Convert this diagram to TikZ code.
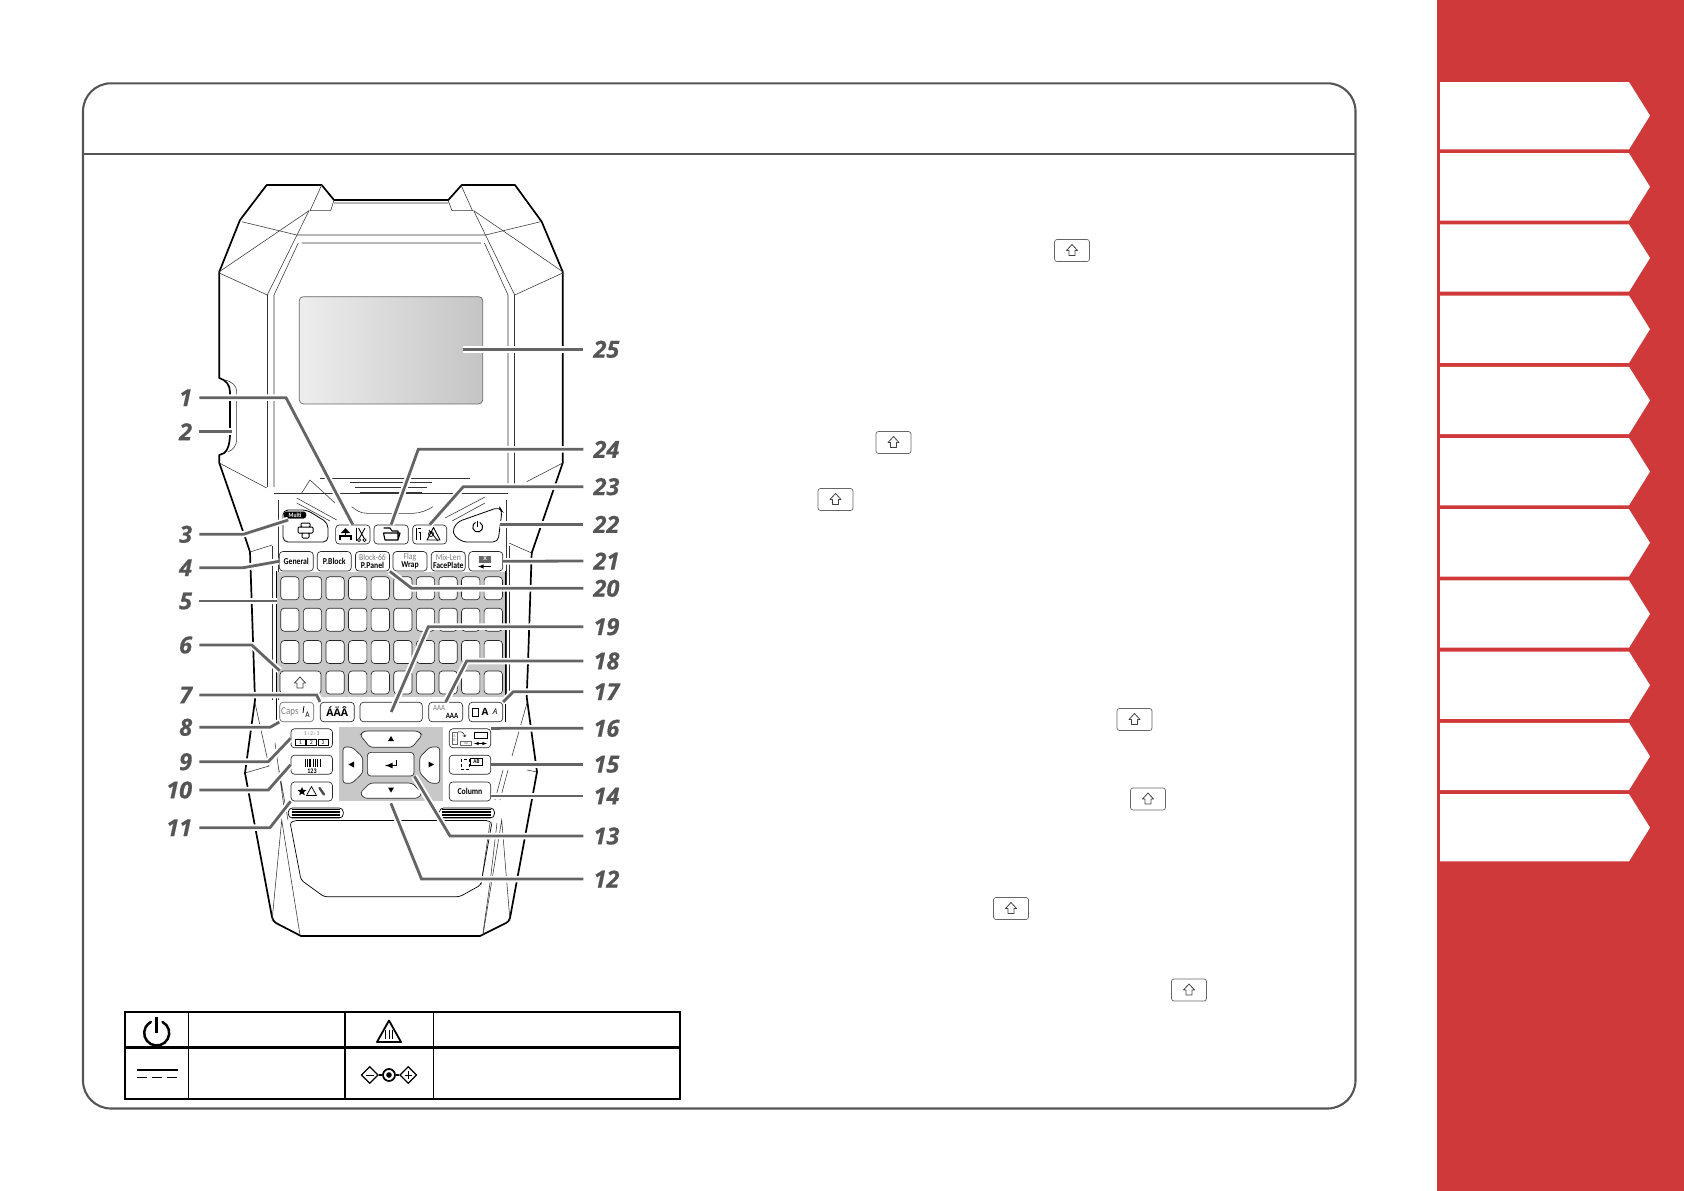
\documentclass[tikz,border=0pt]{standalone}
\usepackage{fontspec}
\usepackage{tikz}
\usetikzlibrary{shapes.geometric}
\newfontfamily\labelfont[BoldItalicFeatures={FakeBold=0.5}]{Open Sans}
\newfontfamily\keyfont[FakeStretch=0.86]{Carlito}
\definecolor{sidered}{RGB}{208,57,57}
\definecolor{framegrey}{RGB}{85,85,85}
\definecolor{leadgrey}{RGB}{100,100,100}
\definecolor{padgrey}{RGB}{200,200,200}
\definecolor{fadetext}{RGB}{125,125,125}
\tikzset{
  key/.style={draw=black!85, fill=white, rounded corners=3.5, line width=0.65, inner sep=0, font=\keyfont\bfseries\fontsize{9}{8.5}\selectfont, align=center},
  widekey/.style={key, minimum width=34, minimum height=19.5},
  sidekey/.style={key, minimum width=41.5, minimum height=19},
  gridkey/.style={key, minimum width=18.3, minimum height=23},
  glyph/.style={inner sep=0, font=\keyfont\bfseries\fontsize{8}{8}\selectfont},
  leader/.style={draw=leadgrey, line width=2.8, preaction={draw=white, line width=6.5}},
  leftnum/.style={anchor=east, inner sep=0, inner xsep=7, text=framegrey, font=\labelfont\bfseries\itshape\fontsize{23.5}{23.5}\selectfont},
  rightnum/.style={anchor=west, inner sep=0, inner xsep=10, text=framegrey, font=\labelfont\bfseries\itshape\fontsize{23.5}{23.5}\selectfont},
  outline/.style={line width=1.7, line join=round},
  fine/.style={line width=0.55, black!80},
  tab/.style={fill=white, draw=none},
}
% hollow arrow of the shift key, x y
\newcommand{\shiftmark}[2]{\draw[line width=0.8, line join=round, black!75] (#1,#2) ++(0,-6) -- ++(5.5,6) -- ++(-2.5,0) -- ++(0,5) -- ++(-6,0) -- ++(0,-5) -- ++(-2.5,0) -- cycle;}
% power sign, x y radius
\newcommand{\powermark}[3]{\draw[line width=#3*0.2, line cap=round] (#1,#2) ++(62:#3pt) arc (62:-242:#3pt); \draw[line width=#3*0.2] (#1,#2) -- ++(0,-#3*1.3);}
% red tab, y
\newcommand{\sidetab}[1]{\draw[tab] (1440,#1) -- (1629,#1) -- (1650,#1+33.6) -- (1629,#1+67.3) -- (1440,#1+67.3) -- cycle;}
\begin{document}
\begin{tikzpicture}[x=1pt,y=-1pt]
  \useasboundingbox (0,0) rectangle (1684,1191);

  % Side bar and its tabs
  \fill[sidered] (1436.5,0) rectangle (1684,1191);
  \foreach \t in {0,...,10} {\sidetab{82+71.2*\t}}

  % Panel frame
  \draw[framegrey, line width=2.1, rounded corners=28] (83,83.3) rectangle (1355.5,1108.5);
  \draw[framegrey, line width=2.1] (83,153.8) -- (1355.5,153.8);

  % Shift keys in the text column
  \foreach \sx/\sy [count=\i] in {1072/250.5,893.5/442.5,835.5/499.5,1134.5/719.5,1148/799,1011/908.5,1189/990} {
    \node[draw=black!60, rounded corners=2.5, line width=0.7, minimum width=35, minimum height=22, inner sep=0] (shift\i) at (\sx,\sy) {};
    \shiftmark{\sx}{\sy}
  }

  % Body of the printer
  \draw[outline] (250,552) -- (246,540) -- (219.3,463) -- (219.3,455) .. controls (226,454) and (230,448) .. (230,433) -- (230,392) .. controls (230,385) and (226,380) .. (219.3,378) -- (219.3,271.7) -- (240,220) -- (266.7,185) -- (321.7,185) -- (334,200) -- (448.3,200) -- (461.7,185) -- (515,185) -- (541.7,221.7) -- (562.7,271.7) -- (562.7,463) -- (531.7,553) -- (528,663) -- (526.7,697) -- (537,772) -- (510,918) .. controls (509,921) and (508,922) .. (506,923) -- (480,936) -- (301,936) -- (276,923) .. controls (274,922) and (273,920) .. (272,917) -- (245,773) -- (255,700) -- cycle;
  \draw[fine] (225,380) .. controls (233,382) and (236.7,386) .. (236.7,392) -- (236.7,438) .. controls (236.7,446) and (233,450) .. (228,452);
  \draw[fine] (334,203) -- (448,203) (321.7,185) -- (310,210.7) -- (330.7,210.7) -- (334,200) (461,185) -- (472.5,210.7) -- (452,210.7) -- (448,200);
  \draw[fine] (241.7,221.7) -- (296.7,235) -- (485.5,235) -- (540.7,221.7) (301.7,243) -- (481,243);
  \draw[fine] (219.3,271.7) -- (309,210.7) (562.7,271.7) -- (473.7,210.7);
  \draw[fine] (219.3,273) -- (267.3,295) -- (309,210.7) (562.7,273) -- (514.7,295) -- (473.7,210.7);
  \draw[fine] (274,487) -- (274,295) -- (298.3,243) (508,487) -- (508,295) -- (484.4,243);
  \draw[fine] (267.3,295) -- (267.3,487) (514.7,295) -- (514.7,487);
  \draw[fine] (219.3,463) -- (266.7,488) (562.7,463) -- (526.7,481.7);
  \draw[fine] (274,493) -- (508,493) (320,478) -- (470,478);
  \draw[fine] (301.7,493) -- (310,480) -- (335,503);
  \draw[fine] (350,482.3) -- (431.7,482.3) (355,487) -- (426.7,487) (360,492) -- (421.7,492);
  \draw[fine] (351.7,506.7) .. controls (356,510) and (360,513.3) .. (367,513.3) -- (413,513.3) .. controls (420,513.3) and (428,510) .. (433,506.7);
  \draw[fine] (296.7,498) -- (336.7,520) (296.7,503) -- (330,521) (485,497) -- (445,518) (485,503) -- (452,521);
  \draw[fine] (272.3,546) -- (272.3,700) (278,500) -- (278,700) (506,500) -- (506,700) (509.3,546) -- (509.3,700);
  \draw[fine] (272,545) -- (250,552) (509,543) -- (531.7,553);
  \draw[fine] (255,703) -- (269,766) -- (245,773) (527,703) -- (512,756) (527,770) -- (537,772);
  \draw[fine] (275,743) -- (284,807) (279,770) -- (288,820) (508,770) -- (500,800) (503,770) -- (495,800);
  \draw[fine] (272,921) -- (281.7,820) -- (300,935) (510,921) -- (501.7,820) -- (483,935);
  \draw[fine] (490,823) -- (481,885) (497,823) -- (490,883) -- (483,933);

  % Screen
  \node[draw=black!60, line width=0.7, rounded corners=4, minimum width=183.4, minimum height=107.3, left color=black!7, right color=black!23, inner sep=0] (screen) at (391,350.3) {};

  % Panel under the screen
  \draw[line width=0.8, rounded corners=5] (283,542) -- (283,510) -- (307,510) -- (328,523) -- (328,542) -- cycle;
  \draw[line width=0.8, rounded corners=5] (457,522) -- (499.5,507) -- (502,511) -- (498,542) -- (462,542) -- (451.7,533) -- cycle;

  % Grey behind the keys
  \fill[padgrey] (276.7,571.7) rectangle (505,696.7);
  \fill[padgrey] (339,727.3) rectangle (442.7,800.7);
  \draw[line width=0.55] (276.7,571) -- (276.7,722) (505,571) -- (505,722);

  % Function keys
  \node[draw, fill=black, rounded corners=2.5, minimum width=22, minimum height=6.5, inner sep=0, text=white, font=\keyfont\bfseries\fontsize{6.5}{6.5}\selectfont] (multi) at (295,515) {Multi};
  \draw[line width=1, fill=white, rounded corners=1] (301,523) rectangle (310,527) (298,527) rectangle (313,533) (302,533) rectangle (309,538);
  \node[key, minimum width=34.3, minimum height=19] (feed) at (352.8,534.5) {};
  \node[key, minimum width=34.3, minimum height=19] (folder) at (391.1,534.5) {};
  \node[key, minimum width=34, minimum height=19] (setup) at (429.7,534.5) {};
  \draw[line width=1.2] (339,536) -- (352,536) (340,540) -- (340,536) (351,540) -- (351,536);
  \fill (345.5,528) -- (350,533) -- (341,533) -- cycle;
  \draw[line width=0.9] (345.5,532) -- (345.5,536);
  \draw[line width=0.8] (356.5,528) -- (356.5,541);
  \draw[line width=0.9] (358.5,528) -- (364,538) (365,528) -- (359.5,538);
  \draw[line width=0.8] (359,540) circle (1.6pt) (364.5,540) circle (1.6pt);
  \draw[line width=1.1, line join=round] (383.5,528) -- (390,528) -- (392,531) -- (398,531) -- (398,540) -- (385,540) -- (383.5,533) -- (400,533) -- (398,540);
  \draw[line width=1] (416,528) -- (416,540) (418.5,532) -- (420.5,532) -- (420.5,540) (418,528) -- (421,528);
  \draw[line width=0.9, line join=round] (433.5,527.5) -- (440,540) -- (427,540) -- cycle;
  \draw[line width=0.8] (431,534) circle (2.5pt) (429,530) -- (438,541);
  \powermark{477.7}{527}{5}

  % Second row of keys
  \node[widekey] (general) at (296.3,561.3) {General};
  \node[widekey] (pblock) at (334.2,561.3) {P.Block};
  \node[widekey] (ppanel) at (372.5,561.3) {{\color{fadetext}\mdseries Block-66}\\P.Panel};
  \node[widekey] (wrap) at (410,561.3) {{\color{fadetext}\mdseries Flag}\\Wrap};
  \node[widekey] (faceplate) at (448.3,561.3) {{\color{fadetext}\mdseries Mix-Len}\\FacePlate};
  \node[widekey] (backspace) at (485.8,561.3) {};
  \node[fill=black!60, text=white, minimum width=12, minimum height=7, inner sep=0, font=\sffamily\bfseries\fontsize{8}{8}\selectfont] (clear) at (485,559) {x};
  \draw[line width=0.9, -latex] (491,566.5) -- (478,566.5);

  % Letter keys
  \foreach \row/\y in {1/588.3,2/619.7,3/652} {
    \foreach \col in {0,...,9} {
      \node[gridkey] (letter\row\col) at (289.9+22.6*\col,\y) {};
    }
  }
  \foreach \col in {2,...,9} {
    \node[gridkey] (letter4\col) at (289.9+22.6*\col,682.5) {};
  }
  \node[key, minimum width=41, minimum height=23] (shift) at (300.5,682.5) {};
  \shiftmark{300}{683}

  % Row above the pad
  \node[widekey, draw=black!60, text=fadetext, text width=31, align=left, font=\keyfont\fontsize{10.5}{10.5}\selectfont] (caps) at (296.7,712) {Caps};
  \node[glyph, font=\keyfont\fontsize{8.5}{8.5}\selectfont] (capsA) at (307.5,715) {A};
  \draw[line width=0.8] (304,706) .. controls (302,708) and (305,710) .. (303,713);
  \node[widekey, font=\labelfont\bfseries\fontsize{10.5}{10.5}\selectfont] (accent) at (337.3,712) {ÁÄÂ};
  \node[key, minimum width=62.3, minimum height=19.5] (space) at (391.2,712) {};
  \node[widekey] (width) at (445.7,712) {};
  \node[glyph, text=fadetext, font=\keyfont\fontsize{8}{8}\selectfont] (widthA) at (439,708) {AAA};
  \node[glyph, font=\keyfont\bfseries\fontsize{8}{8}\selectfont] (widthB) at (452,716) {AAA};
  \node[widekey] (style) at (485.8,712) {};
  \node[glyph, font=\labelfont\bfseries\fontsize{10}{10}\selectfont] (styleA) at (485,712) {A};
  \node[glyph, font=\labelfont\itshape\fontsize{8}{8}\selectfont] (styleB) at (495,712) {A};
  \draw[line width=0.8] (472,708) rectangle (478,716);

  % Left column of keys
  \node[sidekey] (number) at (311.7,738.3) {};
  \node[sidekey] (barcode) at (311.7,764.7) {};
  \node[sidekey] (symbol) at (311.7,791.5) {};
  \node[glyph, text=fadetext, font=\keyfont\fontsize{6}{6}\selectfont] (numbertop) at (311.7,733.5) {1\,›\,2\,›\,3};
  \foreach \bx/\bn in {300.5/1,311.5/2,323/3} {
    \node[draw, line width=0.7, minimum width=10, minimum height=6, inner sep=0, font=\keyfont\fontsize{6}{6}\selectfont] (number\bn) at (\bx,742.5) {\bn};
  }
  \foreach \bx/\bw in {305.5/0.6,307/1,309/0.5,310.5/1.4,313/0.6,315/0.8,317.5/0.6,320/1} {
    \draw[line width=\bw] (\bx,759) -- (\bx,767);
  }
  \node[glyph, font=\keyfont\bfseries\fontsize{7}{7}\selectfont] (barcodenum) at (312,771) {123};
  \node[star, star points=5, star point ratio=2.4, fill=black, inner sep=0, minimum size=9.5] (star) at (302,791.5) {};
  \draw[line width=0.7, line join=round] (311.5,786.5) -- (316.5,795.5) -- (306.5,795.5) -- cycle;
  \draw[line width=2.4, line cap=round, black!70] (319.5,788) -- (324,794.5);

  % Right column of keys
  \node[sidekey] (layout) at (470,738.3) {};
  \node[sidekey] (length) at (470,764.7) {};
  \node[sidekey] (column) at (470,791.5) {Column};
  \node[draw=black!60, line width=0.6, minimum width=5, minimum height=12, inner sep=0, align=center, text=fadetext, font=\keyfont\fontsize{4.5}{4.5}\selectfont] (layoutA) at (454.5,738) {A\\B};
  \node[draw=black!60, line width=0.6, minimum width=11, minimum height=4.5, inner sep=0, text=fadetext, font=\keyfont\fontsize{4}{4}\selectfont] (layoutB) at (466,743.5) {AB};
  \draw[line width=0.8] (474,732) rectangle (487,738.5);
  \draw[line width=0.6, latex-latex] (474,743.5) -- (487,743.5);
  \draw[line width=0.5, ->] (458,732) .. controls (462,731) and (464,733) .. (465,737);
  \draw[line width=0.7, densely dashed] (461,759) rectangle (469,769);
  \node[draw, line width=0.7, minimum width=12, minimum height=7, inner sep=0, font=\keyfont\bfseries\fontsize{6}{6}\selectfont] (lengthAB) at (476.5,762) {AB};

  % Pad keys
  \node[key, minimum width=46.7, minimum height=23.7] (enter) at (390.7,764.2) {};
  \draw[key, rounded corners=3] (364,731) -- (418,731) -- (422.3,735) -- (412,747.3) -- (370,747.3) -- (360,735) -- cycle;
  \draw[key, rounded corners=3] (370,783) -- (412,783) -- (422.3,793) -- (418,798.3) -- (364,798.3) -- (360,793) -- cycle;
  \draw[key, rounded corners=3] (343,747) -- (352,747) -- (362.7,757) -- (362.7,773) -- (352,783.3) -- (343,783.3) -- cycle;
  \draw[key, rounded corners=3] (439.7,747) -- (430,747) -- (419.7,757) -- (419.7,773) -- (430,783.3) -- (439.7,783.3) -- cycle;
  \coordinate (downkey) at (390.9,803.3);
  \fill (391,736) -- (394,741) -- (388,741) -- cycle;
  \fill (391,792.5) -- (394,787.5) -- (388,787.5) -- cycle;
  \fill (348.5,764.5) -- (354,761.5) -- (354,767.5) -- cycle;
  \fill (434,764.5) -- (428.5,761.5) -- (428.5,767.5) -- cycle;
  \draw[line width=1.6, -latex] (396.5,759.5) -- (396.5,765.5) -- (385,765.5);

  % Vents and lower tray
  \draw[line width=0.7, rounded corners=4] (288.3,808) rectangle (343.3,818) (439.4,808) rectangle (494.4,818);
  \foreach \v in {809.5,811,812.5,814,815.5,817} {
    \draw[line width=0.6] (292,\v) -- (340,\v) (442,\v) -- (490.5,\v);
  }
  \draw[line width=0.7] (296,820.7) -- (486.5,820.7);
  \draw[line width=0.7, rounded corners=3] (296,820.7) -- (290,822) -- (301,880) -- (324,896.7) -- (459.7,896.7) -- (480.8,885) -- (492,822) -- (486.5,820.7);

  % Set up number labels
  \node[leftnum] (n1) at (199.3,397.7) {1};
  \node[leftnum] (n2) at (199.3,431.7) {2};
  \node[leftnum] (n3) at (199.3,534.3) {3};
  \node[leftnum] (n4) at (199.3,567.7) {4};
  \node[leftnum] (n5) at (199.3,601) {5};
  \node[leftnum] (n6) at (199.3,645) {6};
  \node[leftnum] (n7) at (199.3,695) {7};
  \node[leftnum] (n8) at (199.3,727.3) {8};
  \node[leftnum] (n9) at (199.3,761.7) {9};
  \node[leftnum] (n10) at (199.3,790) {10};
  \node[leftnum] (n11) at (199.3,827.7) {11};
  \node[rightnum] (n12) at (583.3,879) {12};
  \node[rightnum] (n13) at (583.3,836) {13};
  \node[rightnum] (n14) at (583.3,796) {14};
  \node[rightnum] (n15) at (583.3,764.3) {15};
  \node[rightnum] (n16) at (583.3,728.3) {16};
  \node[rightnum] (n17) at (583.3,691.7) {17};
  \node[rightnum] (n18) at (583.3,661) {18};
  \node[rightnum] (n19) at (583.3,626.7) {19};
  \node[rightnum] (n20) at (583.3,588.3) {20};
  \node[rightnum] (n21) at (583.3,561) {21};
  \node[rightnum] (n22) at (583.3,524.3) {22};
  \node[rightnum] (n23) at (583.3,486.7) {23};
  \node[rightnum] (n24) at (583.3,449.3) {24};
  \node[rightnum] (n25) at (583.3,349.3) {25};

  % Draw leaders
  \draw[leader] (n1.east) -- (286,397.7) -- (feed.north);
  \draw[leader] (n2.east) -- (231.7,431.7);
  \draw[leader] (n3.east) -- (243.3,534.3) -- (288.3,520);
  \draw[leader] (n4.east) -- (243.3,567.7) -- (general.west);
  \draw[leader] (n5.east) -- (276.7,601);
  \draw[leader] (n6.east) -- (251.7,645) -- (shift.north west);
  \draw[leader] (n7.east) -- (316.7,695) -- (accent.north west);
  \draw[leader] (n8.east) -- (270,727.3) -- (caps.south west);
  \draw[leader] (n9.east) -- (268.3,761.7) -- (number.west);
  \draw[leader] (n10.east) -- (268.3,790) -- (barcode.west);
  \draw[leader] (n11.east) -- (270,827.7) -- (symbol.south west);
  \draw[leader] (n12.west) -- (421.5,879) -- (downkey);
  \draw[leader] (n13.west) -- (450,836) -- (enter.south east);
  \draw[leader] (n14.west) -- (column.east |- n14.west);
  \draw[leader] (n15.west) -- (length.east |- n15.west);
  \draw[leader] (n16.west) -- (503,728.3) -- (layout.north east);
  \draw[leader] (n17.west) -- (513.3,691.7) -- (style.north east);
  \draw[leader] (n18.west) -- (466.7,661) -- (width.north);
  \draw[leader] (n19.west) -- (428.3,626.7) -- (space.center);
  \draw[leader] (n20.west) -- (411.7,588.3) -- (ppanel.south east);
  \draw[leader] (n21.west) -- (backspace.east);
  \draw[leader] (n22.west) -- (500,524.3);
  \draw[leader] (n23.west) -- (463.3,486.7) -- (setup.north);
  \draw[leader] (n24.west) -- (418.3,449.3) -- (folder.north);
  \draw[leader] (n25.west) -- (463.3,349.3);

  % Symbol table
  \draw[line width=1.8] (125,1011.7) rectangle (679.8,1099.3);
  \draw[line width=2.6] (125,1047.7) -- (679.8,1047.7);
  \draw[line width=1.2] (188.8,1011.7) -- (188.8,1099.3) (345,1011.7) -- (345,1099.3) (433.7,1011.7) -- (433.7,1099.3);
  \powermark{156.7}{1033}{12.5}
  \draw[line width=1.8, line join=round] (389,1020.5) -- (401,1042) -- (377,1042) -- cycle;
  \draw[line width=0.7] (385.5,1030) -- (385.5,1039) (389,1030) -- (389,1039) (392.5,1030) -- (392.5,1039);
  \draw[line width=1.4] (137,1070) -- (177.7,1070);
  \draw[line width=1.4, dash pattern=on 10 off 5.2] (137,1077.3) -- (177.7,1077.3);
  \node[diamond, draw, line width=1.2, minimum size=17, inner sep=0] (minus) at (369.7,1075) {};
  \node[diamond, draw, line width=1.2, minimum size=17, inner sep=0] (plus) at (408.3,1075) {};
  \node[circle, draw, line width=1.7, minimum size=12, inner sep=0] (jack) at (389,1075) {};
  \fill (389,1075) circle (2.8pt);
  \draw[line width=1.1] (minus.east) -- (jack.west) (jack.east) -- (plus.west);
  \draw[line width=1] (366,1075) -- (373.5,1075) (404.5,1075) -- (412,1075) (408.3,1071.2) -- (408.3,1078.8);
\end{tikzpicture}
\end{document}
